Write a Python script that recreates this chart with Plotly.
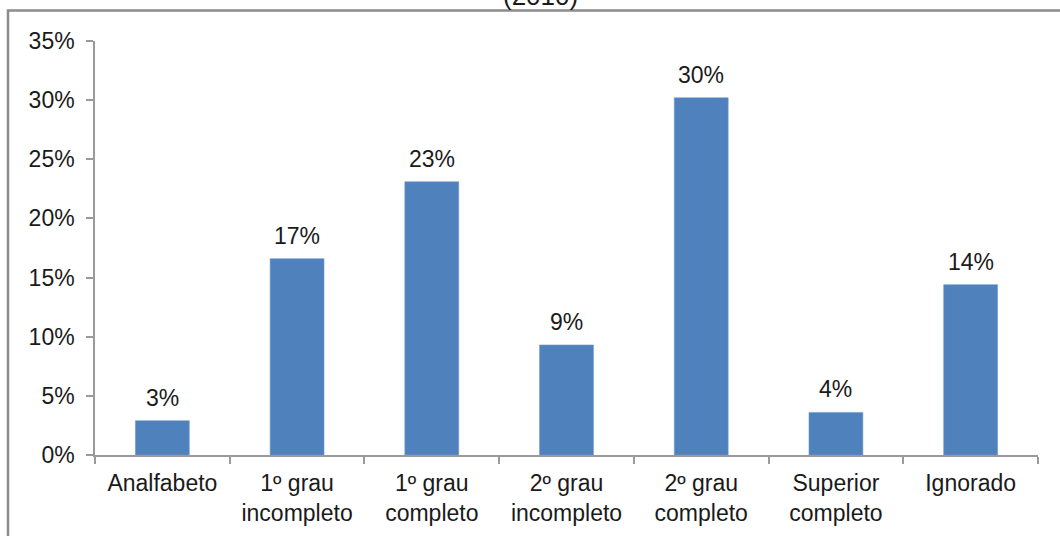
import plotly.graph_objects as go

# Escolaridade: share of each schooling level
categorias = [
    "Analfabeto",
    "1º grau<br>incompleto",
    "1º grau<br>completo",
    "2º grau<br>incompleto",
    "2º grau<br>completo",
    "Superior<br>completo",
    "Ignorado",
]
percentuais = [0.029, 0.166, 0.231, 0.093, 0.302, 0.036, 0.144]
y_ticks = [0, 0.05, 0.10, 0.15, 0.20, 0.25, 0.30, 0.35]
y_tick_labels = ["0%", "5%", "10%", "15%", "20%", "25%", "30%", "35%"]
titulo = "(2010)"

FONT = "Liberation Sans, Arial, sans-serif"
BAR_COLOR = "#4F81BD"
AXIS_COLOR = "#9a9a9a"
TEXT_COLOR = "#1a1a1a"

W, H = 1060, 536
L, R, T, B = 95, 22, 41, 81
plot_w, plot_h = W - L - R, H - T - B


def px_to_paper_x(px):
    return (px - L) / plot_w


def px_to_paper_y(py):
    return (H - B - py) / plot_h


fig = go.Figure(
    go.Bar(
        x=categorias,
        y=percentuais,
        marker=dict(color=BAR_COLOR, line=dict(color="#6f98cc", width=0.6)),
        hoverinfo="skip",
    )
)

# value labels above each bar
for cat, val in zip(categorias, percentuais):
    fig.add_annotation(
        x=cat,
        y=val,
        text=f"{val:.0%}",
        showarrow=False,
        yanchor="bottom",
        yshift=8,
        font=dict(family=FONT, size=23, color=TEXT_COLOR),
    )

# chart title (sits above the frame)
fig.add_annotation(
    x=px_to_paper_x(540),
    y=px_to_paper_y(-4),
    xref="paper",
    yref="paper",
    text=titulo,
    showarrow=False,
    yanchor="middle",
    font=dict(family=FONT, size=26, color=TEXT_COLOR),
)

# outer frame of the chart area
fig.add_shape(
    type="path",
    xref="paper",
    yref="paper",
    path=(
        f"M {px_to_paper_x(8)} {px_to_paper_y(H + 5)} "
        f"L {px_to_paper_x(8)} {px_to_paper_y(10.5)} "
        f"L {px_to_paper_x(W + 5)} {px_to_paper_y(10.5)}"
    ),
    line=dict(color="#8c8c8c", width=2.5),
    layer="above",
)

fig.update_layout(
    width=W,
    height=H,
    margin=dict(l=L, r=R, t=T, b=B, autoexpand=False),
    paper_bgcolor="white",
    plot_bgcolor="white",
    bargap=0.6,
    showlegend=False,
    font=dict(family=FONT, size=23, color=TEXT_COLOR),
    xaxis=dict(
        type="category",
        automargin=False,
        showline=True,
        linecolor=AXIS_COLOR,
        linewidth=1.5,
        ticks="outside",
        tickson="boundaries",
        ticklen=7,
        tickcolor=AXIS_COLOR,
        tickwidth=1.5,
        ticklabelstandoff=7,
        showgrid=False,
        tickfont=dict(family=FONT, size=23, color=TEXT_COLOR),
    ),
    yaxis=dict(
        range=[0, 0.35],
        automargin=False,
        tickvals=y_ticks,
        ticktext=y_tick_labels,
        showline=True,
        linecolor=AXIS_COLOR,
        linewidth=1.5,
        ticks="outside",
        ticklen=7,
        tickcolor=AXIS_COLOR,
        tickwidth=1.5,
        ticklabelstandoff=7,
        showgrid=False,
        zeroline=False,
        tickfont=dict(family=FONT, size=23, color=TEXT_COLOR),
    ),
)

fig.write_html("out.html")
